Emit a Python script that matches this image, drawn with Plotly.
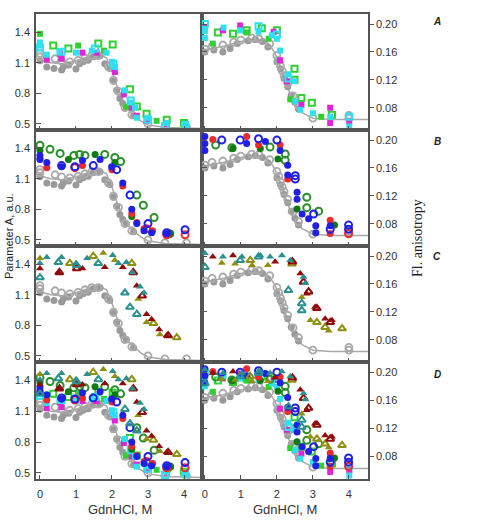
import plotly.graph_objects as go

# ---------------- data ----------------
# gray reference protein (shown in every panel)
GRAY_FIT_L_X = [0, 0.3, 0.6, 1.0, 1.4, 1.65, 1.85, 2.0, 2.15, 2.3, 2.5, 2.8, 3.0, 3.5, 4.5]
GRAY_FIT_L_Y = [1.13, 1.10, 1.09, 1.12, 1.17, 1.185, 1.15, 1.02, 0.86, 0.72, 0.62, 0.53, 0.49, 0.465, 0.455]
GRAY_FILL_L_X = [0.0, 0.19, 0.39, 0.6, 0.65, 0.8, 1.0, 1.1, 1.2, 1.34, 1.48, 1.67, 1.8, 1.94, 2.04, 2.13, 2.22, 2.3, 2.4, 2.6]
GRAY_FILL_L_Y = [1.12, 1.06, 1.045, 1.03, 1.06, 1.08, 1.04, 1.09, 1.11, 1.125, 1.16, 1.17, 1.09, 1.045, 0.92, 0.83, 0.75, 0.70, 0.66, 0.58]
GRAY_OPEN_L_X = [0.0, 0.0, 0.42, 0.6, 0.83, 1.06, 1.25, 1.44, 1.62, 1.9, 2.04, 2.18, 2.36, 2.55, 3.0, 3.47, 4.07]
GRAY_OPEN_L_Y = [1.16, 1.19, 1.14, 1.12, 1.11, 1.125, 1.15, 1.17, 1.17, 1.06, 0.93, 0.82, 0.66, 0.59, 0.50, 0.47, 0.47]

GRAY_FIT_R_X = [0, 0.5, 1.0, 1.4, 1.7, 1.8, 1.95, 2.1, 2.3, 2.5, 2.7, 3.0, 3.5, 4.53]
GRAY_FIT_R_Y = [0.163, 0.168, 0.175, 0.179, 0.174, 0.170, 0.158, 0.138, 0.108, 0.085, 0.073, 0.065, 0.063, 0.063]
GRAY_FILL_R_X = [0.0, 0.25, 0.5, 0.7, 0.9, 1.2, 1.4, 1.6, 1.75, 2.0, 2.1, 2.2, 2.3, 2.4, 2.5, 2.6]
GRAY_FILL_R_Y = [0.160, 0.163, 0.160, 0.165, 0.172, 0.176, 0.178, 0.175, 0.167, 0.146, 0.136, 0.122, 0.110, 0.098, 0.088, 0.078]
GRAY_OPEN_R_X = [0.0, 0.2, 0.5, 0.8, 1.0, 1.3, 1.5, 1.8, 2.0, 2.05, 2.1, 2.15, 2.2, 2.3, 2.45, 2.6, 3.0, 4.0, 4.0]
GRAY_OPEN_R_Y = [0.164, 0.168, 0.170, 0.174, 0.177, 0.180, 0.179, 0.172, 0.155, 0.148, 0.140, 0.133, 0.126, 0.115, 0.097, 0.083, 0.065, 0.069, 0.065]

# panel A (squares)
A_L_MAG_X = [0.19, 0.56, 0.6, 1.18, 1.57, 2.08, 2.33, 2.55, 2.69, 2.96, 3.52]
A_L_MAG_Y = [1.13, 1.19, 1.14, 1.20, 1.20, 1.01, 0.79, 0.66, 0.58, 0.53, 0.50]
A_L_CYAN_X = [0.0, 0.0, 0.19, 0.54, 1.0, 1.44, 1.85, 2.0, 2.08, 2.36, 2.5, 2.64, 2.69, 3.0, 3.52, 4.0]
A_L_CYAN_Y = [1.30, 1.27, 1.18, 1.21, 1.20, 1.22, 1.20, 1.11, 1.06, 0.83, 0.71, 0.66, 0.56, 0.56, 0.51, 0.50]
A_L_CYANO_X = [0.0, 0.6, 1.53, 2.04, 2.52, 3.0, 3.47, 4.03]
A_L_CYANO_Y = [1.25, 1.21, 1.24, 1.09, 0.73, 0.54, 0.48, 0.49]
A_L_GRNO_X = [0.37, 0.79, 1.62, 2.02, 2.5, 2.69, 2.96, 3.52, 4.0]
A_L_GRNO_Y = [1.27, 1.24, 1.29, 1.28, 0.84, 0.67, 0.60, 0.54, 0.51]
A_L_GRN_X = [0.0, 1.06, 1.78, 2.39, 3.24]
A_L_GRN_Y = [1.385, 1.27, 1.22, 0.67, 0.53]

A_R_MAG_X = [0.0, 0.5, 0.98, 1.91, 2.09, 2.28, 2.68, 3.48, 3.48, 4.01]
A_R_MAG_Y = [0.196, 0.191, 0.198, 0.189, 0.148, 0.118, 0.084, 0.080, 0.058, 0.060]
A_R_CYAN_X = [0.0, 0.0, 0.52, 0.98, 1.49, 1.86, 2.0, 2.09, 2.32, 2.49, 2.51, 2.65, 3.0, 3.48, 4.01]
A_R_CYAN_Y = [0.190, 0.180, 0.195, 0.191, 0.189, 0.184, 0.179, 0.162, 0.128, 0.118, 0.089, 0.077, 0.072, 0.067, 0.053]
A_R_CYANO_X = [0.0, 1.49, 2.0, 2.32, 4.01]
A_R_CYANO_Y = [0.200, 0.197, 0.185, 0.122, 0.067]
A_R_GRNO_X = [0.36, 0.78, 1.16, 1.58, 2.0, 2.49, 2.49, 2.68, 2.97, 3.53]
A_R_GRNO_Y = [0.188, 0.186, 0.191, 0.194, 0.191, 0.136, 0.120, 0.094, 0.087, 0.070]
A_R_GRN_X = [0.22, 1.16, 1.77, 2.37, 3.23]
A_R_GRN_Y = [0.172, 0.188, 0.179, 0.092, 0.067]

# panel B (circles)
B_L_GRNO_X = [0.0, 0.28, 0.56, 0.94, 1.1, 1.25, 1.8, 2.08, 2.24, 2.69, 2.87, 3.17, 3.6]
B_L_GRNO_Y = [1.43, 1.39, 1.35, 1.33, 1.34, 1.33, 1.34, 1.31, 1.27, 0.94, 0.84, 0.72, 0.56]
B_L_DGRN_X = [0.0, 0.79, 1.53, 2.08, 2.55, 3.63]
B_L_DGRN_Y = [1.38, 1.29, 1.34, 1.26, 0.73, 0.56]
B_L_BLUE_X = [0.0, 0.0, 0.19, 0.6, 1.18, 1.67, 1.99, 2.3, 2.55, 2.69, 2.89, 3.1, 3.52]
B_L_BLUE_Y = [1.33, 1.29, 1.26, 1.22, 1.28, 1.29, 1.22, 1.06, 0.80, 0.66, 0.59, 0.57, 0.56]
B_L_RED_X = [0.0, 0.19, 1.18, 2.0, 2.3, 2.55, 2.69, 2.89, 3.13]
B_L_RED_Y = [1.30, 1.21, 1.23, 1.19, 1.03, 0.76, 0.67, 0.61, 0.59]
B_L_BLUO_X = [0.6, 0.97, 1.48, 2.13, 2.5, 3.0, 3.52, 4.03]
B_L_BLUO_Y = [1.23, 1.22, 1.23, 1.19, 0.94, 0.66, 0.57, 0.60]
B_L_REDO_X = [0.97, 2.96, 3.52, 4.03]
B_L_REDO_Y = [1.21, 0.61, 0.55, 0.55]

B_R_BLUE_X = [0.0, 0.0, 0.0, 1.16, 1.68, 2.09, 2.3, 2.3, 2.56, 2.56, 2.7, 2.88, 3.08, 3.08, 3.48]
B_R_BLUE_Y = [0.205, 0.195, 0.185, 0.195, 0.198, 0.185, 0.164, 0.150, 0.125, 0.115, 0.094, 0.087, 0.077, 0.067, 0.077]
B_R_RED_X = [0.22, 1.16, 1.49, 2.09, 2.3, 3.48, 3.48]
B_R_RED_Y = [0.201, 0.205, 0.193, 0.193, 0.144, 0.085, 0.066]
B_R_BLUO_X = [0.47, 0.98, 1.49, 2.0, 2.51, 2.51, 3.02, 3.48, 3.99, 3.99]
B_R_BLUO_Y = [0.200, 0.200, 0.202, 0.200, 0.149, 0.144, 0.094, 0.072, 0.078, 0.072]
B_R_GRNO_X = [0.3, 0.75, 1.81, 2.23, 2.23, 2.83, 2.83, 3.16]
B_R_GRNO_Y = [0.193, 0.189, 0.190, 0.180, 0.171, 0.118, 0.103, 0.098]
B_R_DGRN_X = [0.78, 1.54, 2.03, 2.56, 3.6]
B_R_DGRN_Y = [0.188, 0.188, 0.173, 0.101, 0.078]
B_R_REDO_X = [3.99]
B_R_REDO_Y = [0.066]

# panel C (triangles)
C_L_TEAL_X = [0.0, 0.19, 0.6, 1.0, 1.31, 2.02, 2.18, 2.4, 2.57, 2.78, 2.89]
C_L_TEAL_Y = [1.41, 1.47, 1.47, 1.41, 1.46, 1.49, 1.41, 1.42, 1.32, 1.18, 1.12]
C_L_TEALO_X = [0.0, 0.51, 1.02, 1.62, 2.36, 2.5, 2.69]
C_L_TEALO_Y = [1.27, 1.42, 1.39, 1.41, 1.12, 0.98, 0.91]
C_L_OLIV_X = [0.0, 1.76, 2.08, 2.73, 2.96, 3.33]
C_L_OLIV_Y = [1.46, 1.51, 1.44, 1.06, 0.83, 0.71]
C_L_OLIVO_X = [0.83, 1.48, 2.55, 3.15, 3.8]
C_L_OLIVO_Y = [1.41, 1.48, 1.41, 0.82, 0.68]
C_L_DRED_X = [0.0, 0.51, 1.18, 1.8, 2.3, 2.69, 2.96, 3.1, 3.31, 3.52]
C_L_DRED_Y = [1.36, 1.32, 1.36, 1.37, 1.37, 1.19, 0.91, 0.86, 0.76, 0.70]
C_L_DREDO_X = [0.54, 1.02, 2.59, 2.84, 3.56]
C_L_DREDO_Y = [1.32, 1.36, 1.32, 1.09, 0.70]

C_R_TEAL_X = [0.0, 0.5, 1.03, 1.54, 1.81, 2.14, 2.37, 2.74, 2.79]
C_R_TEAL_Y = [0.204, 0.199, 0.199, 0.201, 0.199, 0.201, 0.194, 0.170, 0.161]
C_R_TEALO_X = [0.0, 0.98, 1.49, 2.32, 2.69, 2.69]
C_R_TEALO_Y = [0.184, 0.194, 0.199, 0.151, 0.132, 0.122]
C_R_OLIV_X = [0.47, 0.84, 1.31, 1.75, 2.69, 2.93, 3.44]
C_R_OLIV_Y = [0.190, 0.189, 0.187, 0.187, 0.141, 0.108, 0.093]
C_R_OLIVO_X = [1.26, 2.42, 3.11, 3.34, 3.81]
C_R_OLIVO_Y = [0.194, 0.189, 0.105, 0.098, 0.096]
C_R_DRED_X = [0.22, 0.78, 1.95, 2.65, 2.83, 3.06, 3.34, 3.53]
C_R_DRED_Y = [0.199, 0.201, 0.192, 0.175, 0.146, 0.127, 0.110, 0.108]
C_R_DREDO_X = [2.43, 2.74, 2.88, 3.11, 3.48]
C_R_DREDO_Y = [0.192, 0.163, 0.149, 0.125, 0.105]

X_TICKS = [0, 1, 2, 3, 4]
LEFT_TICKS = [0.5, 0.8, 1.1, 1.4]
RIGHT_TICKS = [0.08, 0.12, 0.16, 0.20]
RIGHT_TICKTEXT = ["0.08", "0.12", "0.16", "0.20"]
PANEL_LABELS = ["A", "B", "C", "D"]

# ---------------- styles ----------------
MAG = "#e024d8"; CYAN = "#2ee0f0"; GRN_A = "#30d030"
RED = "#ee2b2b"; BLUE = "#1f1fe6"; GRN_B = "#2a8f2a"; DGRN = "#0f7a0f"
DRED = "#900a0a"; OLIVE = "#909010"; TEAL = "#2a9090"
GRAY_F = "#9a9a9a"; GRAY_O = "#aaaaaa"; AXC = "#555555"

A_L = [(A_L_GRNO_X, A_L_GRNO_Y, GRN_A, "square-open"), (A_L_GRN_X, A_L_GRN_Y, GRN_A, "square"),
       (A_L_MAG_X, A_L_MAG_Y, MAG, "square"), (A_L_CYAN_X, A_L_CYAN_Y, CYAN, "square"),
       (A_L_CYANO_X, A_L_CYANO_Y, CYAN, "square-open")]
A_R = [(A_R_GRNO_X, A_R_GRNO_Y, GRN_A, "square-open"), (A_R_GRN_X, A_R_GRN_Y, GRN_A, "square"),
       (A_R_MAG_X, A_R_MAG_Y, MAG, "square"), (A_R_CYAN_X, A_R_CYAN_Y, CYAN, "square"),
       (A_R_CYANO_X, A_R_CYANO_Y, CYAN, "square-open")]
B_L = [(B_L_GRNO_X, B_L_GRNO_Y, GRN_B, "circle-open"), (B_L_DGRN_X, B_L_DGRN_Y, DGRN, "circle"),
       (B_L_RED_X, B_L_RED_Y, RED, "circle"), (B_L_REDO_X, B_L_REDO_Y, RED, "circle-open"),
       (B_L_BLUE_X, B_L_BLUE_Y, BLUE, "circle"), (B_L_BLUO_X, B_L_BLUO_Y, BLUE, "circle-open")]
B_R = [(B_R_GRNO_X, B_R_GRNO_Y, GRN_B, "circle-open"), (B_R_DGRN_X, B_R_DGRN_Y, DGRN, "circle"),
       (B_R_RED_X, B_R_RED_Y, RED, "circle"), (B_R_REDO_X, B_R_REDO_Y, RED, "circle-open"),
       (B_R_BLUE_X, B_R_BLUE_Y, BLUE, "circle"), (B_R_BLUO_X, B_R_BLUO_Y, BLUE, "circle-open")]
C_L = [(C_L_OLIV_X, C_L_OLIV_Y, OLIVE, "triangle-up"), (C_L_OLIVO_X, C_L_OLIVO_Y, OLIVE, "triangle-up-open"),
       (C_L_DRED_X, C_L_DRED_Y, DRED, "triangle-up"), (C_L_DREDO_X, C_L_DREDO_Y, DRED, "triangle-up-open"),
       (C_L_TEAL_X, C_L_TEAL_Y, TEAL, "triangle-up"), (C_L_TEALO_X, C_L_TEALO_Y, TEAL, "triangle-up-open")]
C_R = [(C_R_OLIV_X, C_R_OLIV_Y, OLIVE, "triangle-up"), (C_R_OLIVO_X, C_R_OLIVO_Y, OLIVE, "triangle-up-open"),
       (C_R_DRED_X, C_R_DRED_Y, DRED, "triangle-up"), (C_R_DREDO_X, C_R_DREDO_Y, DRED, "triangle-up-open"),
       (C_R_TEAL_X, C_R_TEAL_Y, TEAL, "triangle-up"), (C_R_TEALO_X, C_R_TEALO_Y, TEAL, "triangle-up-open")]

ROWS_LEFT = [A_L, B_L, C_L, A_L + B_L + C_L]
ROWS_RIGHT = [A_R, B_R, C_R, A_R + B_R + C_R]

W, H = 480, 524
ROWS_PX = [(14, 130), (130, 246), (246, 362), (362, 479)]
XL_PX = (36, 202)
XR_PX = (202, 368)
FONT = "Liberation Sans, Arial, sans-serif"
SIZES = {"square": 6, "circle": 7, "triangle-up": 7}


def fx(a, b):
    return [a / W, b / W]


def fy(t, b):
    return [(H - b) / H, (H - t) / H]


def aid(i):
    return "" if i == 1 else str(i)


fig = go.Figure()
layout = {}


def add_markers(series, xa, ya):
    for xs, ys, col, sym in series:
        is_open = sym.endswith("open")
        base = sym.replace("-open", "")
        fig.add_trace(go.Scatter(
            x=xs, y=ys, mode="markers", xaxis=xa, yaxis=ya, showlegend=False,
            marker=dict(symbol=sym, size=SIZES[base], color=col,
                        line=dict(color=col, width=2 if is_open else 0))))


def add_gray(fit_x, fit_y, fill_x, fill_y, open_x, open_y, xa, ya):
    fig.add_trace(go.Scatter(x=fit_x, y=fit_y, mode="lines", xaxis=xa, yaxis=ya, showlegend=False,
                             line=dict(color=GRAY_O, width=1.5)))
    fig.add_trace(go.Scatter(x=fill_x, y=fill_y, mode="markers", xaxis=xa, yaxis=ya, showlegend=False,
                             marker=dict(symbol="circle", size=7, color=GRAY_F, line=dict(width=0))))
    fig.add_trace(go.Scatter(x=open_x, y=open_y, mode="markers", xaxis=xa, yaxis=ya, showlegend=False,
                             marker=dict(symbol="circle-open", size=7, color=GRAY_O,
                                         line=dict(color=GRAY_O, width=1.8))))


common_axis = dict(showgrid=False, zeroline=False, showline=True, linecolor=AXC, linewidth=1.5,
                   mirror=True, tickcolor=AXC, tickwidth=1,
                   tickfont=dict(family=FONT, size=11, color="#333333"))

for r, (t, b) in enumerate(ROWS_PX):
    li, ri, oi = 2 * r + 1, 2 * r + 2, 9 + r
    layout["xaxis" + aid(li)] = dict(common_axis, domain=fx(*XL_PX), range=[-0.11, 4.5],
                                     anchor="y" + aid(li), tickvals=X_TICKS, ticks="inside", ticklen=4,
                                     showticklabels=(r == 3), ticklabelstandoff=4)
    layout["xaxis" + aid(ri)] = dict(common_axis, domain=fx(*XR_PX), range=[-0.08, 4.53],
                                     anchor="y" + aid(ri), tickvals=X_TICKS, ticks="inside", ticklen=4,
                                     showticklabels=(r == 3), ticklabelstandoff=4)
    layout["yaxis" + aid(li)] = dict(common_axis, domain=fy(t, b), range=[0.44, 1.58],
                                     anchor="x" + aid(li), tickvals=LEFT_TICKS, ticks="inside", ticklen=5,
                                     ticklabelstandoff=2)
    layout["yaxis" + aid(ri)] = dict(common_axis, domain=fy(t, b), range=[0.048, 0.2145],
                                     anchor="x" + aid(ri), side="right", tickvals=RIGHT_TICKS,
                                     ticktext=RIGHT_TICKTEXT, ticks="outside", ticklen=4)
    layout["yaxis" + aid(oi)] = dict(showgrid=False, zeroline=False, showline=False,
                                     overlaying="y" + aid(ri), anchor="x" + aid(ri), side="left",
                                     range=[0.048, 0.2145], tickvals=RIGHT_TICKS, ticks="inside",
                                     ticklen=5, tickcolor=AXC, tickwidth=1, showticklabels=False)

    xa_l, ya_l = "x" + aid(li), "y" + aid(li)
    xa_r, ya_r = "x" + aid(ri), "y" + aid(ri)
    add_gray(GRAY_FIT_L_X, GRAY_FIT_L_Y, GRAY_FILL_L_X, GRAY_FILL_L_Y, GRAY_OPEN_L_X, GRAY_OPEN_L_Y, xa_l, ya_l)
    add_gray(GRAY_FIT_R_X, GRAY_FIT_R_Y, GRAY_FILL_R_X, GRAY_FILL_R_Y, GRAY_OPEN_R_X, GRAY_OPEN_R_Y, xa_r, ya_r)
    add_markers(ROWS_LEFT[r], xa_l, ya_l)
    add_markers(ROWS_RIGHT[r], xa_r, ya_r)
    fig.add_trace(go.Scatter(x=[None], y=[None], xaxis=xa_r, yaxis="y" + aid(oi), showlegend=False,
                             mode="markers"))

annotations = []
label_y_px = [21, 141, 256, 374]
for lab, ypx in zip(PANEL_LABELS, label_y_px):
    annotations.append(dict(text="<b><i>" + lab + "</i></b>", x=437 / W, y=(H - ypx) / H, xref="paper",
                            yref="paper", showarrow=False, xanchor="center", yanchor="middle",
                            font=dict(family=FONT, size=10, color="#222222")))
annotations.append(dict(text="Parameter A, a.u.", x=9 / W, y=(H - 236) / H, xref="paper", yref="paper",
                        showarrow=False, textangle=-90, xanchor="center", yanchor="middle",
                        font=dict(family=FONT, size=11, color="#222222")))
annotations.append(dict(text="Fl. anisotropy", x=417 / W, y=(H - 238) / H, xref="paper", yref="paper",
                        showarrow=False, textangle=-90, xanchor="center", yanchor="middle",
                        font=dict(family="Liberation Serif, Times New Roman, serif", size=14,
                                  color="#222222")))
for xc in [120, 285]:
    annotations.append(dict(text="GdnHCl, M", x=xc / W, y=(H - 509) / H, xref="paper", yref="paper",
                            showarrow=False, xanchor="center", yanchor="middle",
                            font=dict(family=FONT, size=13, color="#333333")))

layout.update(width=W, height=H, margin=dict(l=0, r=0, t=0, b=0), paper_bgcolor="white",
              plot_bgcolor="white", annotations=annotations, showlegend=False)
fig.update_layout(**layout)
fig.write_html("out.html")
